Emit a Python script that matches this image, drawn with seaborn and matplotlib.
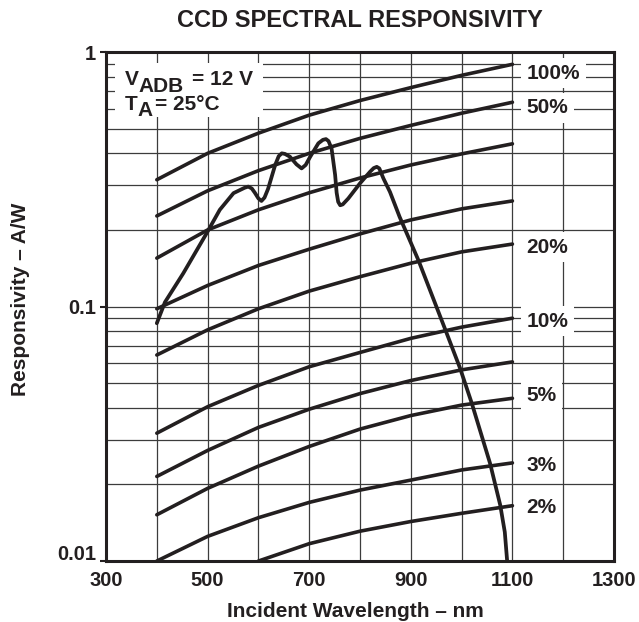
import matplotlib
matplotlib.use("Agg")
import matplotlib.pyplot as plt
import matplotlib.transforms as mtransforms
from matplotlib.patches import Rectangle
from matplotlib.ticker import LogLocator, NullFormatter, MultipleLocator
import pandas as pd
import seaborn as sns

# efficiency curves (A/W at 400..1100 nm)
wavelength = [400, 500, 600, 700, 800, 900, 1000, 1100]
eff_100 = [0.315, 0.400, 0.480, 0.565, 0.645, 0.725, 0.810, 0.895]
eff_70 = [0.227, 0.285, 0.342, 0.400, 0.458, 0.515, 0.575, 0.635]
eff_50 = [0.155, 0.200, 0.240, 0.280, 0.320, 0.360, 0.398, 0.436]
eff_30 = [0.098, 0.121, 0.145, 0.168, 0.193, 0.219, 0.242, 0.260]
eff_20 = [0.0645, 0.081, 0.098, 0.115, 0.131, 0.148, 0.164, 0.176]
eff_10 = [0.0318, 0.0404, 0.049, 0.058, 0.066, 0.075, 0.083, 0.090]
eff_7 = [0.0215, 0.0272, 0.0335, 0.0395, 0.0455, 0.0512, 0.0564, 0.0606]
eff_5 = [0.0152, 0.0193, 0.0236, 0.0282, 0.0330, 0.0373, 0.0410, 0.0436]
eff_3 = [0.0100, 0.0125, 0.0148, 0.0170, 0.0190, 0.0208, 0.0228, 0.0243]
wavelength_2 = [600, 700, 800, 900, 1000, 1100]
eff_2 = [0.0100, 0.0117, 0.0131, 0.0143, 0.0154, 0.0165]

# measured CCD responsivity
resp_nm = [400, 416, 452, 498, 524, 551, 573, 580, 587, 593, 600, 606, 612, 619,
           633, 640, 646, 652, 662, 675, 685, 693, 702, 718, 727, 733, 738, 744,
           751, 754, 757, 761, 766, 777, 800, 820, 827, 833, 838, 846, 859, 878,
           915, 967, 997, 1020, 1056, 1076, 1085, 1090]
resp_aw = [0.086, 0.104, 0.135, 0.194, 0.240, 0.279, 0.293, 0.296, 0.291, 0.280,
           0.266, 0.260, 0.268, 0.290, 0.360, 0.390, 0.400, 0.398, 0.388, 0.362,
           0.349, 0.360, 0.388, 0.438, 0.452, 0.455, 0.447, 0.418, 0.329, 0.280,
           0.258, 0.250, 0.252, 0.266, 0.305, 0.339, 0.350, 0.354, 0.349, 0.319,
           0.282, 0.225, 0.152, 0.082, 0.0572, 0.0417, 0.0242, 0.0166, 0.013, 0.0098]

label_text = ["100%", "50%", "20%", "10%", "5%", "3%", "2%"]
label_y = [0.827, 0.603, 0.171, 0.0877, 0.0448, 0.0238, 0.0163]

sns.set_style("white")
plt.rcParams['font.family'] = ['Liberation Sans', 'DejaVu Sans']
plt.rcParams['font.weight'] = 'bold'
ink = '#231f20'

rows = []
for name, xs, ys in [("100", wavelength, eff_100), ("70", wavelength, eff_70),
                     ("50", wavelength, eff_50), ("30", wavelength, eff_30),
                     ("20", wavelength, eff_20), ("10", wavelength, eff_10),
                     ("7", wavelength, eff_7), ("5", wavelength, eff_5),
                     ("3", wavelength, eff_3), ("2", wavelength_2, eff_2)]:
    for x, y in zip(xs, ys):
        rows.append({"level": name, "nm": x, "aw": y})
eff_df = pd.DataFrame(rows)
resp_df = pd.DataFrame({"nm": resp_nm, "aw": resp_aw})

fig = plt.figure(figsize=(6.39, 6.22), dpi=100)
ax = fig.add_axes([0.1659, 0.098, 0.795, 0.8183])

sns.lineplot(data=eff_df, x="nm", y="aw", units="level", estimator=None,
             color=ink, lw=2.6, legend=False, ax=ax, zorder=3)
sns.lineplot(data=resp_df, x="nm", y="aw", estimator=None, sort=False,
             color=ink, lw=2.7, ax=ax, zorder=3)

ax.set_yscale('log')
ax.set_xlim(300, 1300)
ax.set_ylim(0.01, 1)
ax.set_xticks([300, 500, 700, 900, 1100, 1300])
ax.xaxis.set_minor_locator(MultipleLocator(100))
ax.set_yticks([0.01, 0.1, 1], labels=["0.01", "0.1", "1"])
ax.yaxis.set_minor_locator(LogLocator(base=10, subs=range(2, 10)))
ax.yaxis.set_minor_formatter(NullFormatter())
ax.set_axisbelow(True)
ax.grid(True, which='both', color='#3c3c3c', lw=0.9)
ax.tick_params(axis='x', which='both', length=0, pad=7, labelsize=14.5, colors=ink)
ax.tick_params(axis='y', which='major', length=4, width=1.5, pad=3, labelsize=14.5,
               colors=ink, left=True)
ax.tick_params(axis='y', which='minor', length=0)
for lab in ax.get_xticklabels() + ax.get_yticklabels():
    lab.set_fontweight('bold')
ax.set_xlabel("")
ax.set_ylabel("")
for s in ax.spines.values():
    s.set_linewidth(2.2)
    s.set_color(ink)

# lift the bottom y label like the original
low = ax.get_yticklabels()[0]
low.set_transform(low.get_transform() +
                  mtransforms.ScaledTranslation(0, 6 / 72, fig.dpi_scale_trans))

# condition box
ax.add_patch(Rectangle((0.0177, 0.872), 0.291, 0.106, transform=ax.transAxes,
                       facecolor='white', edgecolor='none', zorder=1.5))
kw = dict(transform=ax.transAxes, fontsize=15, fontweight='bold', color=ink,
          va='baseline', ha='left', zorder=4)
ax.text(0.0374, 0.935, "V", **kw)
ax.text(0.0630, 0.921, "ADB", **kw)
ax.text(0.170, 0.935, "= 12 V", **kw)
ax.text(0.0374, 0.886, "T", **kw)
ax.text(0.0620, 0.874, "A", **kw)
ax.text(0.0960, 0.886, "= 25°C", **kw)

for t, y in zip(label_text, label_y):
    ax.text(1128, y, t, fontsize=15, fontweight='bold', color=ink, ha='left',
            va='center', zorder=4,
            bbox=dict(facecolor='white', edgecolor='none', pad=4))

fig.text(0.5634, 0.956, "CCD SPECTRAL RESPONSIVITY", fontsize=17, fontweight='bold',
         color=ink, ha='center', va='baseline')
fig.text(0.556, 0.0075, "Incident Wavelength \u2013 nm", fontsize=15, fontweight='bold',
         color=ink, ha='center', va='baseline')
fig.text(21 / 639, 1 - 299 / 622, "Responsivity \u2013 A/W", fontsize=15,
         fontweight='bold', color=ink, ha='center', va='center', rotation=90)

fig.savefig("out.png", dpi=100)
